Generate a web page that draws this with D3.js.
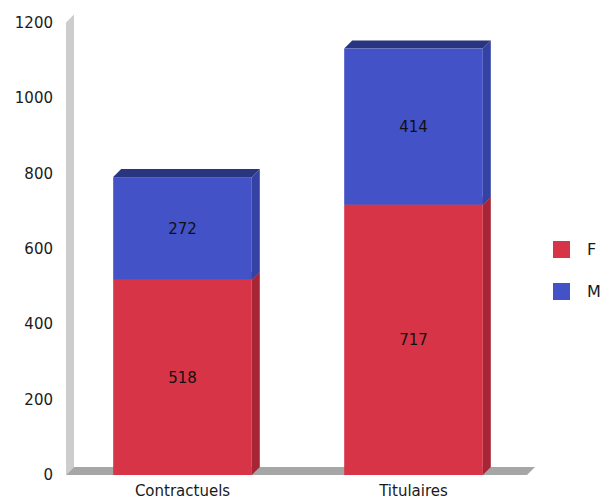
<!DOCTYPE html>
<html>
<head>
<meta charset="utf-8">
<script src="https://cdn.jsdelivr.net/npm/d3@7"></script>
<style>
  body { margin: 0; background: #fff; }
  svg { display: block; font-family: "DejaVu Sans", sans-serif; }
</style>
</head>
<body>
<div id="chart"></div>
<script>
var categories = ["Contractuels", "Titulaires"];
var seriesKeys = ["F", "M"];
var valuesF = [518, 717];
var valuesM = [272, 414];
var yTicks = [0, 200, 400, 600, 800, 1000, 1200];

var svgWidth = 606;
var svgHeight = 504;
var depth = 8;

var colors = {
  F: { front: "#d73447", side: "#a82535", top: "#b52a3c" },
  M: { front: "#4352c7", side: "#3443a3", top: "#29357f" }
};

var svg = d3.select("#chart")
  .append("svg")
  .attr("width", svgWidth)
  .attr("height", svgHeight);

var rows = categories.map(function(c, i) {
  return { cat: c, F: valuesF[i], M: valuesM[i] };
});
var stacked = d3.stack().keys(seriesKeys)(rows);

var y = d3.scaleLinear().domain([0, 1200]).range([475, 22.5]);
var x = d3.scaleBand()
  .domain(categories)
  .range([67, 529])
  .paddingInner(0.4)
  .paddingOuter(0.2);

// 3d wall and floor
var y0 = y(0), yTop = y(1200);
svg.append("polygon")
  .attr("points", [[66, yTop], [66 + depth, yTop - depth], [66 + depth, y0 - depth], [66, y0]].join(" "))
  .attr("fill", "#cdcdcd");
svg.append("polygon")
  .attr("points", [[66, y0], [66 + depth, y0 - depth], [535, y0 - depth], [535 - depth, y0]].join(" "))
  .attr("fill", "#a6a6a6");

// y axis labels
var yAxis = svg.append("g")
  .attr("transform", "translate(66,0)")
  .call(d3.axisLeft(y).tickValues(yTicks).tickFormat(d3.format("d")).tickSize(0).tickPadding(13));
yAxis.select(".domain").remove();
yAxis.selectAll("text")
  .attr("font-size", 15)
  .attr("font-family", "DejaVu Sans, sans-serif")
  .attr("fill", "#1a1a1a");

// bars
var layer = svg.selectAll("g.layer")
  .data(stacked)
  .enter()
  .append("g")
  .attr("class", "layer");

layer.each(function(s) {
  var g = d3.select(this);
  var c = colors[s.key];
  var bw = x.bandwidth();
  s.forEach(function(d) {
    var x0 = x(d.data.cat);
    var yt = y(d[1]), yb = y(d[0]);
    g.append("polygon")
      .attr("points", [[x0 + bw, yb], [x0 + bw + depth, yb - depth], [x0 + bw + depth, yt - depth], [x0 + bw, yt]].join(" "))
      .attr("fill", c.side);
    g.append("polygon")
      .attr("points", [[x0, yt], [x0 + depth, yt - depth], [x0 + bw + depth, yt - depth], [x0 + bw, yt]].join(" "))
      .attr("fill", c.top);
    g.append("rect")
      .attr("x", x0)
      .attr("y", yt)
      .attr("width", bw)
      .attr("height", yb - yt)
      .attr("fill", c.front);
    g.append("text")
      .attr("x", x0 + bw / 2)
      .attr("y", (yt + yb) / 2)
      .attr("dy", "0.35em")
      .attr("text-anchor", "middle")
      .attr("font-size", 15)
      .attr("fill", "#111")
      .text(d[1] - d[0]);
  });
});

// x axis labels
var xAxis = svg.append("g")
  .attr("transform", "translate(0," + y0 + ")")
  .call(d3.axisBottom(x).tickSize(0).tickPadding(10));
xAxis.select(".domain").remove();
xAxis.selectAll("text")
  .attr("font-size", 15)
  .attr("font-family", "DejaVu Sans, sans-serif")
  .attr("fill", "#1a1a1a");

// legend
var legend = svg.selectAll("g.legend")
  .data(seriesKeys)
  .enter()
  .append("g")
  .attr("class", "legend")
  .attr("transform", function(d, i) { return "translate(553," + (241 + i * 42) + ")"; });
legend.append("rect")
  .attr("width", 17)
  .attr("height", 17)
  .attr("fill", function(d) { return colors[d].front; });
legend.append("text")
  .attr("x", 34)
  .attr("y", 8.5)
  .attr("dy", "0.35em")
  .attr("font-size", 16)
  .attr("fill", "#1a1a1a")
  .text(function(d) { return d; });
</script>
</body>
</html>
